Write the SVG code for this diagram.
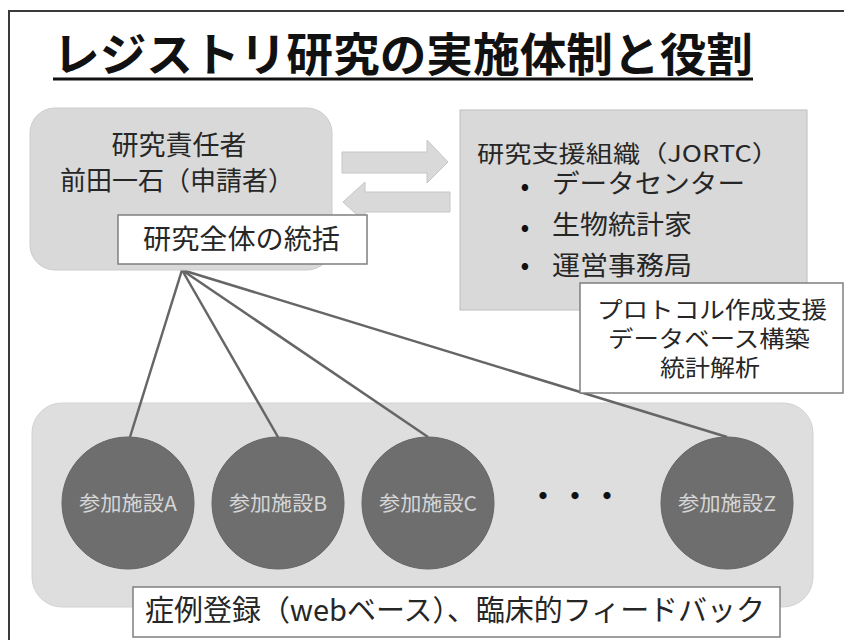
<svg xmlns="http://www.w3.org/2000/svg" width="844" height="640" viewBox="0 0 844 640">
<style>
text{font-family:"Noto Sans CJK JP","Noto Sans",sans-serif;fill:#262626}
.title{font-size:46px;font-weight:bold;fill:#111}
.t27{font-size:27px}
.t26{font-size:26px}
.t24{font-size:24px}
.t23{font-size:23px}
.ct{font-size:20px;fill:#d6d6d6;text-anchor:middle}
.mid{text-anchor:middle}
.bul{font-size:26px;text-anchor:middle;fill:#111}
.gbox{fill:#d9d9d9;stroke:#cccccc;stroke-width:1}
.wbox{fill:#ffffff;stroke:#7f7f7f;stroke-width:1.5}
.site{fill:#6e6e6e;stroke:#666;stroke-width:1}
.conn{stroke:#666;stroke-width:2.5;fill:none}
.arrow{fill:#d9d9d9;stroke:#c6c6c6;stroke-width:1}
</style>
<rect width="844" height="640" fill="#ffffff"/>
<path d="M9,640 V11 H844" fill="none" stroke="#3a3a3a" stroke-width="2"/>
<g id="title">
<text class="title" x="53" y="71" textLength="700" lengthAdjust="spacingAndGlyphs">レジストリ研究の実施体制と役割</text>
<line x1="53" y1="79" x2="753" y2="79" stroke="#111" stroke-width="3"/>
</g>
<g id="sites-area">
<rect x="32" y="403" width="781" height="204" rx="30" fill="#dedede" stroke="#d2d2d2"/>
</g>
<g id="connectors">
<line class="conn" x1="182" y1="270" x2="130" y2="437"/>
<line class="conn" x1="182" y1="270" x2="278" y2="437"/>
<line class="conn" x1="182" y1="270" x2="428" y2="437"/>
<line class="conn" x1="182" y1="270" x2="727" y2="437"/>
<path class="arrow" d="M342,152 H427 V140 L448,162 L427,183 V173 H342 Z"/>
<path class="arrow" d="M450,192 H365 V182 L343,202 L365,222 V212 H450 Z"/>
</g>
<g id="siteA">
<circle class="site" cx="128" cy="503" r="66"/>
<text class="ct" x="128" y="511" textLength="98" lengthAdjust="spacingAndGlyphs">参加施設A</text>
</g>
<g id="siteB">
<circle class="site" cx="278" cy="503" r="66"/>
<text class="ct" x="278" y="511" textLength="98" lengthAdjust="spacingAndGlyphs">参加施設B</text>
</g>
<g id="siteC">
<circle class="site" cx="428" cy="503" r="66"/>
<text class="ct" x="428" y="511" textLength="98" lengthAdjust="spacingAndGlyphs">参加施設C</text>
</g>
<g id="dots">
<text x="529" y="507" style="font-size:28px;font-weight:bold;fill:#111" textLength="92" lengthAdjust="spacing">・・・</text>
</g>
<g id="siteZ">
<circle class="site" cx="727" cy="503" r="66"/>
<text class="ct" x="727" y="511" textLength="98" lengthAdjust="spacingAndGlyphs">参加施設Z</text>
</g>
<g id="pi">
<rect class="gbox" x="30" y="108" width="302" height="162" rx="25"/>
<text class="t27 mid" x="179" y="155">研究責任者</text>
<text class="t26 mid" x="177" y="190" textLength="234" lengthAdjust="spacingAndGlyphs">前田一石（申請者）</text>
</g>
<g id="pi-role">
<rect class="wbox" x="118" y="215" width="249" height="49"/>
<text class="t27" x="143" y="249" textLength="197" lengthAdjust="spacingAndGlyphs">研究全体の統括</text>
</g>
<g id="support">
<rect x="460" y="110" width="347" height="200" fill="#d9d9d9" stroke="#bdbdbd" stroke-width="1"/>
<text class="t23" x="477" y="162" textLength="302" lengthAdjust="spacingAndGlyphs">研究支援組織（JORTC）</text>
<text class="bul" x="525" y="195">•</text>
<text class="t26" x="552" y="193" textLength="193" lengthAdjust="spacingAndGlyphs">データセンター</text>
<text class="bul" x="525" y="236">•</text>
<text class="t26" x="552" y="234" textLength="140" lengthAdjust="spacingAndGlyphs">生物統計家</text>
<text class="bul" x="525" y="274">•</text>
<text class="t26" x="552" y="275" textLength="140" lengthAdjust="spacingAndGlyphs">運営事務局</text>
</g>
<g id="support-role">
<rect class="wbox" x="580" y="283" width="263" height="110"/>
<text class="t23 mid" x="712" y="318" textLength="230" lengthAdjust="spacingAndGlyphs">プロトコル作成支援</text>
<text class="t23 mid" x="709" y="347" textLength="202" lengthAdjust="spacingAndGlyphs">データベース構築</text>
<text class="t23 mid" x="710" y="376" textLength="100" lengthAdjust="spacingAndGlyphs">統計解析</text>
</g>
<g id="sites-role">
<rect class="wbox" x="133" y="587" width="647" height="50"/>
<text x="145" y="621" style="font-size:29px" textLength="620" lengthAdjust="spacingAndGlyphs">症例登録（webベース）、臨床的フィードバック</text>
</g>
</svg>
